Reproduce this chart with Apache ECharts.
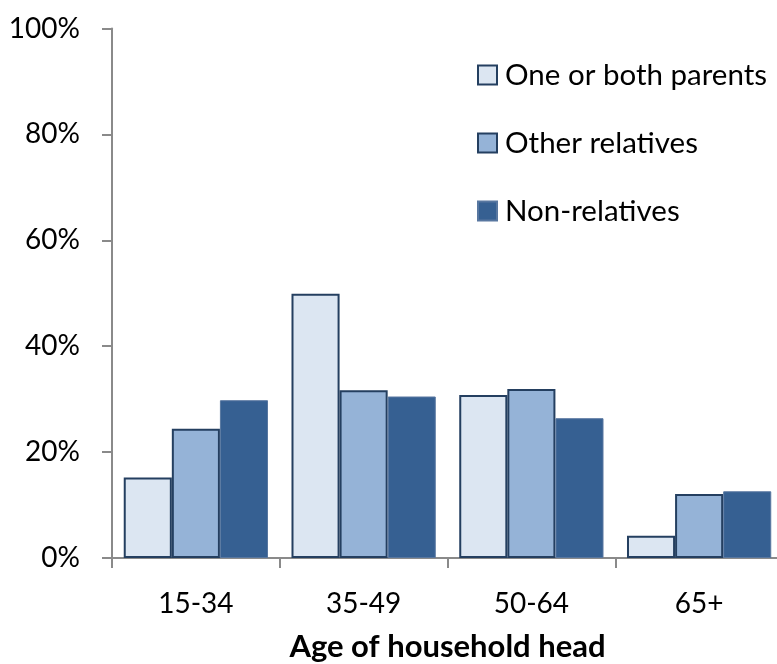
<!DOCTYPE html>
<html>
<head>
<meta charset="utf-8">
<script src="https://cdn.jsdelivr.net/npm/echarts@6/dist/echarts.min.js"></script>
<style>
  html, body { margin: 0; padding: 0; background: #fff; }
  #chart { width: 777px; height: 664px; }
</style>
</head>
<body>
<div id="chart"></div>
<script>
// Household members by relationship, share by age of household head
const ageGroups = ['15-34', '35-49', '50-64', '65+'];
const parents = [15.2, 49.9, 30.8, 4.2];
const otherRelatives = [24.4, 31.7, 31.9, 12.1];
const nonRelatives = [29.8, 30.5, 26.4, 12.6];
const seriesNames = ['One or both parents', 'Other relatives', 'Non-relatives'];

const FONT = 'Lato, "Open Sans", sans-serif';
const axisGrey = '#8a8a8a';

const chart = echarts.init(document.getElementById('chart'), null, { renderer: 'canvas' });

chart.setOption({
  animation: false,
  backgroundColor: '#ffffff',
  textStyle: { fontFamily: FONT },
  grid: {
    left: 112, width: 671, top: 28.5, bottom: 106,
    containLabel: false,
    outerBoundsMode: 'none'
  },
  legend: {
    orient: 'vertical',
    left: 477,
    top: 58,
    padding: 0,
    itemWidth: 19,
    itemHeight: 19,
    itemGap: 34,
    icon: 'rect',
    data: seriesNames,
    textStyle: { fontFamily: FONT, fontSize: 29.5, color: '#000', lineHeight: 34, padding: [0, 0, 0, 3] }
  },
  xAxis: {
    type: 'category',
    data: ageGroups,
    axisLine: { lineStyle: { color: axisGrey, width: 2 } },
    axisTick: { show: true, length: 10, lineStyle: { color: axisGrey, width: 2 } },
    axisLabel: { fontFamily: FONT, fontSize: 28, color: '#000', margin: 32 },
    name: 'Age of household head',
    nameLocation: 'middle',
    nameGap: 73,
    nameTextStyle: { fontFamily: FONT, fontSize: 31, fontWeight: 'bold', color: '#000' }
  },
  yAxis: {
    type: 'value',
    min: 0,
    max: 100,
    interval: 20,
    axisLine: { show: true, lineStyle: { color: axisGrey, width: 2 } },
    axisTick: { show: true, length: 10, lineStyle: { color: axisGrey, width: 2 } },
    splitLine: { show: false },
    axisLabel: { fontFamily: FONT, fontSize: 28, color: '#000', margin: 32, formatter: '{value}%' }
  },
  series: [
    {
      name: seriesNames[0], type: 'bar', data: parents,
      barGap: '0%', barCategoryGap: '14%',
      itemStyle: { color: '#dce6f2', borderColor: '#243f60', borderWidth: 2 }
    },
    {
      name: seriesNames[1], type: 'bar', data: otherRelatives,
      barGap: '0%', barCategoryGap: '14%',
      itemStyle: { color: '#95b3d7', borderColor: '#243f60', borderWidth: 2 }
    },
    {
      name: seriesNames[2], type: 'bar', data: nonRelatives,
      barGap: '0%', barCategoryGap: '14%',
      itemStyle: { color: '#366092', borderColor: '#5877a0', borderWidth: 1 }
    }
  ]
});
</script>
</body>
</html>
